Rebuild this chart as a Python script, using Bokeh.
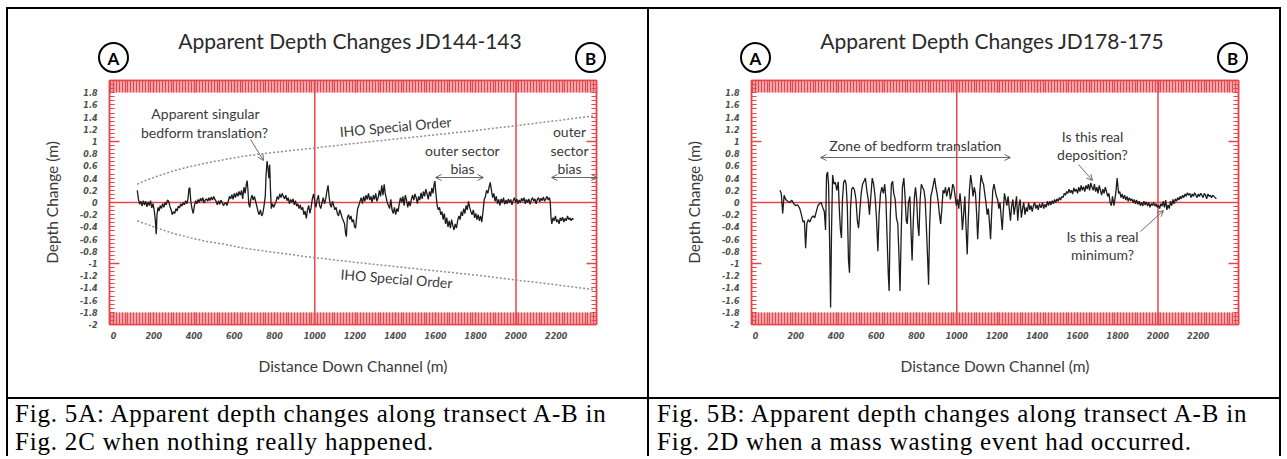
import numpy as np
from bokeh.plotting import figure
from bokeh.core.properties import value
from bokeh.models import (Range1d, LinearAxis, FixedTicker, NumeralTickFormatter,
                          Span, Label, Arrow, OpenHead, Div)
from bokeh.layouts import row, column
from bokeh.embed import file_html
from bokeh.resources import INLINE

# ---------------- data ----------------
x_ticks = [0, 200, 400, 600, 800, 1000, 1200, 1400, 1600, 1800, 2000, 2200]
y_ticks = [-2, -1.8, -1.6, -1.4, -1.2, -1, -0.8, -0.6, -0.4, -0.2, 0,
           0.2, 0.4, 0.6, 0.8, 1, 1.2, 1.4, 1.6, 1.8]
grid_lines = [1000, 2000]

left_x = [118, 124, 130, 136, 142, 148, 154, 160, 166, 172, 178, 184, 190, 196, 202, 208, 212, 216, 221, 226,
          232, 238, 244, 250, 256, 262, 268, 274, 280, 286, 292, 298, 304, 310, 316, 322, 328, 334, 340, 346,
          352, 358, 364, 370, 375, 379, 384, 390, 396, 402, 408, 414, 420, 426, 432, 438, 444, 450, 456, 462,
          468, 474, 480, 486, 492, 498, 504, 510, 516, 522, 528, 534, 540, 546, 552, 558, 564, 570, 576, 582,
          588, 594, 600, 606, 612, 618, 624, 630, 636, 642, 648, 654, 660, 664, 668, 672, 677, 682, 688, 694,
          700, 706, 712, 718, 724, 730, 736, 742, 748, 754, 758, 763, 768, 772, 776, 780, 784, 790, 796, 802,
          808, 814, 820, 826, 832, 838, 844, 850, 856, 862, 868, 874, 880, 886, 892, 898, 904, 910, 916, 922,
          928, 934, 940, 946, 952, 958, 964, 970, 976, 982, 988, 994, 1000, 1006, 1012, 1018, 1024, 1030, 1036, 1042,
          1048, 1054, 1060, 1066, 1071, 1076, 1082, 1088, 1094, 1100, 1106, 1112, 1118, 1124, 1130, 1136, 1142, 1148, 1153, 1157,
          1162, 1168, 1174, 1180, 1186, 1192, 1198, 1203, 1208, 1213, 1219, 1225, 1231, 1237, 1243, 1249, 1255, 1261, 1267, 1273,
          1279, 1285, 1291, 1297, 1303, 1309, 1315, 1321, 1327, 1333, 1339, 1345, 1350, 1355, 1360, 1366, 1372, 1378, 1384, 1390,
          1396, 1402, 1408, 1414, 1420, 1426, 1432, 1438, 1444, 1450, 1456, 1462, 1468, 1474, 1480, 1486, 1492, 1498, 1504, 1510,
          1516, 1522, 1528, 1534, 1540, 1546, 1552, 1558, 1564, 1570, 1576, 1582, 1588, 1593, 1597, 1602, 1608, 1614, 1620, 1626,
          1632, 1638, 1644, 1650, 1656, 1662, 1668, 1674, 1680, 1686, 1692, 1698, 1704, 1710, 1716, 1722, 1728, 1734, 1740, 1746,
          1752, 1758, 1764, 1770, 1776, 1782, 1788, 1794, 1800, 1806, 1812, 1818, 1824, 1830, 1836, 1842, 1848, 1854, 1860, 1866,
          1872, 1878, 1884, 1890, 1896, 1902, 1908, 1914, 1920, 1926, 1932, 1938, 1944, 1950, 1956, 1962, 1968, 1974, 1980, 1986,
          1992, 1998, 2004, 2010, 2016, 2022, 2028, 2034, 2040, 2046, 2052, 2058, 2064, 2070, 2076, 2082, 2088, 2094, 2100, 2106,
          2112, 2118, 2124, 2130, 2136, 2142, 2148, 2154, 2160, 2166, 2170, 2174, 2178, 2184, 2190, 2196, 2202, 2208, 2214, 2220,
          2226, 2232, 2238, 2244, 2250, 2256, 2262, 2268, 2274, 2280, 2286]
left_y = [0.20, 0.05, -0.03, 0.02, -0.06, 0.03, -0.04, 0.02, -0.07, 0.01, -0.05, 0.03, -0.09, -0.02, -0.12, -0.30, -0.52, -0.20, -0.08, -0.14,
          -0.05, -0.10, -0.02, -0.08, 0.00, -0.04, 0.04, 0.02, -0.06, -0.12, -0.20, -0.15, -0.18, -0.10, -0.14, -0.06, -0.09, -0.02, -0.06, 0.00,
          -0.04, 0.03, -0.02, 0.06, 0.23, 0.24, 0.02, -0.10, -0.18, -0.05, 0.03, -0.02, 0.05, 0.00, 0.07, 0.02, 0.08, -0.01, 0.04, 0.06,
          0.02, 0.08, 0.03, 0.09, 0.04, 0.10, 0.05, 0.02, -0.04, 0.03, -0.03, 0.04, 0.00, -0.05, -0.02, 0.00, -0.05, 0.02, 0.10, 0.06,
          0.13, 0.05, 0.15, 0.08, 0.16, 0.10, 0.18, 0.12, 0.20, 0.06, 0.25, 0.15, 0.30, 0.36, 0.20, -0.02, -0.08, 0.05, 0.12, 0.04,
          0.10, 0.02, -0.06, -0.15, -0.20, -0.12, -0.22, -0.18, -0.05, 0.10, 0.45, 0.68, 0.55, 0.40, 0.62, 0.20, -0.10, -0.02, -0.08, -0.03,
          0.02, 0.10, 0.05, 0.14, 0.08, 0.15, 0.10, 0.06, 0.12, 0.03, 0.08, -0.02, 0.05, 0.00, 0.06, -0.04, 0.03, -0.06, -0.02, -0.10,
          -0.04, -0.12, -0.08, -0.20, -0.14, -0.26, -0.12, -0.05, -0.18, -0.08, 0.06, 0.14, 0.02, -0.08, 0.05, 0.12, -0.05, -0.10, 0.00, 0.08,
          -0.02, 0.05, 0.18, 0.28, 0.10, -0.02, -0.08, 0.02, -0.05, -0.12, -0.08, -0.18, -0.22, -0.12, -0.18, -0.25, -0.30, -0.35, -0.50, -0.56,
          -0.25, -0.20, -0.28, -0.22, -0.32, -0.28, -0.40, -0.42, -0.25, -0.10, -0.05, 0.02, 0.08, -0.02, 0.10, 0.02, 0.12, 0.05, 0.15, 0.04,
          0.10, 0.00, 0.12, 0.05, 0.15, 0.02, 0.08, 0.20, 0.10, 0.28, 0.12, 0.30, 0.15, 0.08, 0.00, -0.05, -0.10, 0.05, -0.12, -0.18,
          -0.08, -0.20, -0.10, -0.15, -0.02, 0.08, 0.00, 0.10, -0.05, 0.12, 0.04, -0.08, 0.02, -0.06, 0.05, 0.12, 0.04, 0.14, 0.08, -0.02,
          0.10, 0.04, 0.16, 0.06, 0.18, 0.10, 0.22, 0.14, 0.05, 0.18, 0.10, 0.24, 0.15, 0.30, 0.35, 0.15, -0.05, -0.12, -0.08, -0.20,
          -0.15, -0.28, -0.18, -0.35, -0.25, -0.40, -0.30, -0.42, -0.28, -0.38, -0.45, -0.35, -0.42, -0.30, -0.22, -0.28, -0.15, -0.22, -0.10, -0.18,
          -0.05, -0.12, 0.02, -0.08, -0.15, -0.20, -0.12, -0.25, -0.18, -0.28, -0.20, -0.30, -0.22, -0.32, -0.15, 0.05, 0.10, 0.20, 0.15, 0.25,
          0.33, 0.20, 0.08, 0.15, 0.02, 0.10, -0.02, 0.05, -0.05, 0.06, 0.00, 0.08, -0.03, 0.04, -0.02, 0.06, 0.00, 0.05, -0.04, 0.03,
          0.08, 0.00, 0.06, -0.02, 0.04, 0.00, 0.07, 0.02, 0.08, -0.02, 0.05, 0.00, 0.06, -0.03, 0.04, 0.08, 0.02, 0.06, -0.02, 0.05,
          0.08, 0.01, 0.07, 0.03, 0.09, 0.02, 0.06, 0.10, 0.04, 0.08, 0.02, -0.25, -0.35, -0.25, -0.30, -0.22, -0.32, -0.28, -0.35, -0.25,
          -0.30, -0.24, -0.32, -0.26, -0.30, -0.22, -0.28, -0.25, -0.30, -0.26, -0.28]

right_x = [121, 128, 135, 142, 150, 160, 170, 180, 190, 200, 210, 220, 228, 236, 243, 249, 255, 262, 270, 278,
           286, 294, 302, 310, 318, 326, 334, 342, 348, 353, 358, 363, 368, 373, 378, 383, 390, 397, 404, 411,
           417, 422, 427, 432, 438, 445, 450, 456, 462, 467, 472, 478, 485, 492, 499, 506, 512, 518, 525, 532,
           539, 546, 553, 560, 566, 573, 580, 587, 594, 601, 608, 614, 621, 628, 635, 642, 648, 654, 660, 664,
           669, 675, 681, 687, 694, 700, 707, 713, 718, 724, 730, 737, 743, 749, 754, 760, 767, 773, 778, 784,
           790, 795, 801, 806, 812, 818, 824, 830, 837, 843, 849, 855, 860, 865, 871, 878, 884, 890, 896, 902,
           908, 914, 920, 926, 932, 938, 944, 950, 956, 962, 968, 974, 980, 986, 992, 998, 1004, 1010, 1016, 1022,
           1028, 1034, 1040, 1046, 1052, 1057, 1063, 1069, 1075, 1081, 1087, 1093, 1099, 1104, 1109, 1115, 1121, 1127, 1133, 1139,
           1145, 1151, 1157, 1163, 1168, 1173, 1179, 1185, 1191, 1197, 1203, 1209, 1215, 1221, 1226, 1231, 1237, 1243, 1249, 1255,
           1261, 1267, 1273, 1279, 1285, 1291, 1297, 1303, 1309, 1315, 1321, 1327, 1333, 1339, 1345, 1351, 1357, 1363, 1369, 1375,
           1381, 1387, 1393, 1399, 1405, 1411, 1417, 1420, 1426, 1432, 1438, 1444, 1450, 1456, 1462, 1468, 1474, 1480, 1486, 1492,
           1498, 1504, 1510, 1516, 1522, 1528, 1534, 1540, 1546, 1552, 1558, 1564, 1570, 1576, 1582, 1588, 1594, 1600, 1606, 1612,
           1618, 1624, 1630, 1636, 1642, 1648, 1654, 1660, 1666, 1672, 1678, 1684, 1690, 1696, 1702, 1708, 1714, 1720, 1726, 1732,
           1738, 1744, 1750, 1756, 1762, 1768, 1774, 1781, 1790, 1797, 1804, 1810, 1816, 1822, 1828, 1834, 1840, 1846, 1852, 1858,
           1864, 1870, 1876, 1882, 1888, 1894, 1900, 1906, 1912, 1918, 1924, 1930, 1936, 1942, 1948, 1954, 1960, 1966, 1972, 1978,
           1984, 1990, 1996, 2002, 2008, 2014, 2020, 2026, 2032, 2038, 2044, 2050, 2056, 2062, 2068, 2074, 2080, 2086, 2092, 2098,
           2104, 2110, 2116, 2122, 2128, 2134, 2140, 2146, 2152, 2158, 2164, 2170, 2176, 2182, 2188, 2194, 2200, 2206, 2212, 2218,
           2224, 2230, 2236, 2242, 2248, 2254, 2260, 2266, 2272, 2278, 2284, 2290]
right_y = [0.20, 0.15, -0.18, 0.12, 0.05, 0.02, 0.00, 0.04, -0.02, -0.05, -0.04, -0.10, -0.20, -0.32, -0.30, -0.75, -0.35, -0.28, -0.32, -0.25,
           -0.22, -0.25, -0.15, -0.05, -0.02, 0.00, -0.08, -0.15, -0.45, 0.45, 0.50, 0.30, -0.60, -1.72, -0.40, 0.45, 0.30, 0.33, 0.20, 0.34,
           -0.15, -0.45, -0.58, 0.05, 0.33, 0.37, 0.30, -0.05, -0.95, -1.15, -0.10, 0.22, 0.25, 0.20, 0.05, -0.30, -0.42, -0.15, 0.15, 0.30,
           0.35, 0.40, 0.20, 0.05, -0.20, 0.10, 0.40, 0.30, 0.10, -0.25, -0.80, -0.20, 0.15, 0.25, 0.15, 0.30, 0.05, -0.60, -1.20, -1.45,
           -0.30, 0.30, 0.35, 0.15, 0.05, -0.25, -0.35, -0.90, -1.45, -0.50, 0.25, 0.40, 0.10, -0.30, -0.35, 0.00, 0.10, -0.50, -0.95, -0.30,
           0.10, 0.25, 0.05, -0.35, -0.55, 0.05, 0.30, 0.25, 0.20, 0.05, -0.40, -0.90, -1.35, -0.40, 0.10, 0.20, 0.30, 0.40, 0.25, 0.15,
           0.00, -0.20, -0.35, -0.10, 0.20, 0.15, 0.25, 0.10, 0.20, 0.25, 0.05, 0.15, 0.30, 0.25, 0.10, -0.05, 0.05, -0.10, 0.15, -0.05,
           -0.45, -0.20, 0.10, -0.40, -0.85, -0.30, 0.20, 0.45, 0.30, 0.10, 0.25, 0.15, -0.20, -0.60, -0.25, 0.20, 0.45, 0.35, 0.30, 0.15,
           0.00, -0.20, -0.10, -0.35, -0.60, -0.20, 0.20, 0.30, 0.20, 0.10, 0.05, -0.10, 0.00, -0.25, -0.45, -0.15, 0.15, 0.05, -0.05, 0.10,
           -0.10, -0.30, -0.05, 0.05, -0.20, -0.05, 0.10, -0.30, -0.05, 0.05, -0.25, -0.10, 0.00, -0.20, -0.08, -0.15, 0.00, -0.12, -0.05, -0.15,
           -0.05, 0.00, -0.10, -0.04, -0.12, -0.02, -0.08, -0.08, 0.00, -0.10, -0.03, -0.08, 0.02, -0.05, 0.02, -0.04, 0.03, -0.02, 0.05, 0.00,
           0.06, 0.02, 0.08, 0.04, 0.10, 0.08, 0.15, 0.12, 0.18, 0.15, 0.22, 0.16, 0.20, 0.14, 0.24, 0.18, 0.22, 0.15, 0.25, 0.18,
           0.28, 0.20, 0.26, 0.18, 0.28, 0.22, 0.30, 0.20, 0.32, 0.25, 0.20, 0.30, 0.18, 0.25, 0.15, 0.28, 0.20, 0.12, 0.22, 0.15,
           0.25, 0.18, 0.10, 0.15, 0.00, -0.05, 0.10, -0.05, 0.15, 0.40, 0.15, 0.18, 0.08, 0.14, 0.06, 0.12, 0.04, 0.10, 0.02, 0.08,
           0.03, 0.06, 0.00, 0.05, -0.02, 0.04, -0.03, 0.02, -0.05, 0.00, -0.06, 0.02, -0.04, 0.01, -0.06, 0.00, -0.08, -0.02, -0.05, 0.00,
           -0.06, -0.02, -0.08, -0.04, -0.10, -0.02, -0.06, 0.02, -0.08, 0.04, -0.12, -0.04, -0.10, 0.02, -0.05, 0.05, -0.02, 0.06, 0.02, 0.08,
           0.04, 0.10, 0.06, 0.12, 0.08, 0.14, 0.10, 0.16, 0.12, 0.15, 0.08, 0.14, 0.10, 0.16, 0.12, 0.08, 0.14, 0.10, 0.15, 0.12,
           0.08, 0.15, 0.12, 0.06, 0.14, 0.10, 0.12, 0.08, 0.12, 0.10, 0.08, 0.06, 0.05]

iho_x = [118, 150, 217, 300, 383, 465, 547, 630, 716, 850, 989, 1200, 1400, 1600, 1800, 2000, 2200, 2390]
iho_upper = [0.30, 0.35, 0.43, 0.52, 0.59, 0.65, 0.70, 0.75, 0.79, 0.84, 0.89, 0.97, 1.04, 1.11, 1.18, 1.26, 1.34, 1.42]
iho_lower = [-0.30, -0.34, -0.42, -0.51, -0.58, -0.64, -0.68, -0.74, -0.78, -0.84, -0.90, -0.98, -1.05, -1.12, -1.19, -1.27, -1.35, -1.43]

# ---------------- styling ----------------
RED = "#e5474d"
BAND = "#f6b9bc"
TXT = "#3a3a3a"
ARW = "#6a6a6a"
FONT = "Lato"
X0, X1 = -20, 2400
FW, FH = 487, 244
SX = FW / (X1 - X0)
SY = FH / 4.0
FIG_TOP = 9          # page y of the top of the chart figures
FIG_H = 388
FRAME_TOP, FRAME_BOT = 80, 324

x_minor = [k * 200 / 14 for k in range(-1, 169) if X0 <= k * 200 / 14 <= X1]
y_minor = [k * 0.2 / 3 for k in range(-30, 31)]


def style_x_axis(ax, show_labels):
    ax.ticker = FixedTicker(ticks=x_ticks, minor_ticks=x_minor)
    ax.major_tick_in = 12
    ax.major_tick_out = 0
    ax.minor_tick_in = 12
    ax.minor_tick_out = 0
    ax.major_tick_line_color = RED
    ax.minor_tick_line_color = RED
    ax.major_tick_line_width = 1.3
    ax.minor_tick_line_width = 1.3
    ax.axis_line_color = RED
    ax.axis_line_width = 1.5
    ax.major_label_text_font = "DejaVu Sans"
    ax.major_label_text_font_style = "bold italic"
    ax.major_label_text_font_size = "8px"
    ax.major_label_text_color = "#505050"
    ax.major_label_standoff = 7
    if not show_labels:
        ax.major_label_text_alpha = 0


def style_y_axis(ax, show_labels):
    ax.ticker = FixedTicker(ticks=y_ticks, minor_ticks=y_minor)
    ax.formatter = NumeralTickFormatter(format="0.[0]")
    ax.major_tick_in = 5
    ax.major_tick_out = 0
    ax.minor_tick_in = 5
    ax.minor_tick_out = 0
    ax.major_tick_line_color = RED
    ax.minor_tick_line_color = RED
    ax.axis_line_color = RED
    ax.axis_line_width = 1.5
    ax.major_label_text_font = "DejaVu Sans"
    ax.major_label_text_font_style = "bold italic"
    ax.major_label_text_font_size = "8px"
    ax.major_label_text_color = "#505050"
    ax.major_label_standoff = 12
    if not show_labels:
        ax.major_label_text_alpha = 0


def make_panel(W, fig_left, FL, title, xs, ys, iho):
    FR = FL + FW
    p = figure(width=W, height=FIG_H, x_range=Range1d(X0, X1), y_range=Range1d(-2, 2),
               output_backend="svg", toolbar_location=None,
               min_border_left=FL - fig_left, min_border_right=W - (FR - fig_left),
               min_border_top=FRAME_TOP - FIG_TOP,
               min_border_bottom=FIG_H - (FRAME_BOT - FIG_TOP))
    p.grid.visible = False
    p.outline_line_color = RED
    p.outline_line_width = 1.5
    p.background_fill_color = "white"
    p.border_fill_color = "white"

    def X(px):
        return X0 + (px - FL) / SX

    def Y(py):
        return 2 - (py - FRAME_TOP) / SY

    style_x_axis(p.xaxis[0], True)
    style_y_axis(p.yaxis[0], True)
    p.xaxis.axis_label = "Distance Down Channel (m)"
    p.yaxis.axis_label = "Depth Change (m)"
    for ax in (p.xaxis[0], p.yaxis[0]):
        ax.axis_label_text_font = FONT
        ax.axis_label_text_font_style = "normal"
        ax.axis_label_text_font_size = "15.5px"
        ax.axis_label_text_color = TXT
    p.xaxis.axis_label_standoff = 15
    p.yaxis.axis_label_standoff = 16

    top = LinearAxis()
    style_x_axis(top, False)
    p.add_layout(top, "above")
    right = LinearAxis()
    style_y_axis(right, False)
    p.add_layout(right, "right")

    # pink backing of the dense tick bands at top and bottom
    band_h = 12 / SY
    p.quad(left=[X0, X0], right=[X1, X1], bottom=[2 - band_h, -2], top=[2, -2 + band_h],
           fill_color=BAND, line_color=None, level="underlay")

    # long ticks at +-1 on both sides
    tick_len = 10 / SX
    p.segment(x0=[X0, X0, X1 - tick_len, X1 - tick_len], y0=[1, -1, 1, -1],
              x1=[X0 + tick_len, X0 + tick_len, X1, X1], y1=[1, -1, 1, -1],
              line_color=RED, line_width=1.3)

    p.add_layout(Span(location=0, dimension="width", line_color=RED, line_width=1.5, level="underlay"))
    for g in grid_lines:
        p.add_layout(Span(location=g, dimension="height", line_color=RED, line_width=1.5, level="underlay"))

    if iho is not None:
        p.line(iho[0], iho[1], line_color="#8f8f8f", line_width=1.5, line_dash="2 2")
        p.line(iho[0], iho[2], line_color="#8f8f8f", line_width=1.5, line_dash="2 2")

    p.line(xs, ys, line_color="#1c1c1c", line_width=1.3)

    # title and A / B markers (drawn above the frame, so use overlay level glyphs)
    p.text(x=[(X0 + X1) / 2], y=[Y(40)], text=[title], text_align="center", text_baseline="middle",
           text_font=value(FONT), text_font_size=value("21px"), text_color="#2a2a2a", level="overlay")
    cx = [X(FL + 4), X(FR - 6)]
    p.scatter(x=cx, y=[Y(57), Y(57)], marker="circle", size=29,
              fill_color="white", line_color="black", line_width=2, level="overlay")
    p.text(x=cx, y=[Y(57.5), Y(57.5)], text=["A", "B"], text_align="center", text_baseline="middle",
           text_font=value(FONT), text_font_style="bold", text_font_size=value("17px"),
           text_color="black", level="overlay")
    return p, X, Y


def note(p, x, y, text, size="14px", angle=0.0):
    p.add_layout(Label(x=x, y=y, text=text, text_align="center", text_baseline="middle",
                       text_font=FONT, text_font_size=size, text_color=TXT, angle=angle))


def arrow(p, x0, y0, x1, y1, both=False):
    head = dict(size=6, line_color=ARW, line_width=1)
    p.add_layout(Arrow(start=OpenHead(**head) if both else None, end=OpenHead(**head),
                       x_start=x0, y_start=y0, x_end=x1, y_end=y1, line_color=ARW, line_width=1))


# ---------------- left panel ----------------
pl, XL, YL = make_panel(639, 8, 109, "Apparent Depth Changes  JD144-143", left_x, left_y,
                        (iho_x, iho_upper, iho_lower))
note(pl, XL(205), YL(113), "Apparent singular")
note(pl, XL(204), YL(132), "bedform translation?")
arrow(pl, XL(250), YL(139), XL(263), YL(160))
note(pl, XL(395), YL(126), "IHO Special Order", angle=0.09)
note(pl, XL(396), YL(278), "IHO Special Order", angle=-0.08)
note(pl, XL(462), YL(150), "outer sector")
note(pl, XL(462), YL(168), "bias")
arrow(pl, XL(435), YL(177), XL(483), YL(177), both=True)
note(pl, XL(569), YL(131), "outer")
note(pl, XL(569), YL(150), "sector")
note(pl, XL(569), YL(168), "bias")
arrow(pl, XL(551), YL(177), XL(597), YL(177), both=True)

# ---------------- right panel ----------------
pr, XR, YR = make_panel(630, 649, 751, "Apparent Depth Changes  JD178-175", right_x, right_y, None)
note(pr, XR(915), YR(145), "Zone of bedform translation")
arrow(pr, XR(820), YR(157), XR(1010), YR(157), both=True)
note(pr, XR(1092), YR(136), "Is this real")
note(pr, XR(1092), YR(154), "deposition?")
arrow(pr, XR(1078), YR(164), XR(1092), YR(180))
note(pr, XR(1102), YR(236), "Is this a real")
note(pr, XR(1102), YR(254), "minimum?")
arrow(pr, XR(1140), YR(231), XR(1163), YR(210))


# ---------------- page layout ----------------
def bar(w, h):
    return Div(text="", width=w, height=h, margin=0, styles={"background-color": "black"})


CAP_H = 57


def caption(w, html, pad_left):
    return Div(text=('<div style="font-family: \'Liberation Serif\', \'Times New Roman\', serif; '
                     'font-size: 25px; line-height: 28px; letter-spacing: 0.8px; color: black; '
                     'white-space: nowrap; padding: 1px 0 0 %dpx;">%s</div>' % (pad_left, html)),
               width=w, height=CAP_H, margin=0)


cap_l = caption(639, "Fig. 5A: Apparent depth changes along transect A-B in<br>Fig. 2C when nothing really happened.", 7)
cap_r = caption(630, "Fig. 5B: Apparent depth changes along transect A-B in<br>Fig. 2D when a mass wasting event had occurred.", 8)

TOTAL_W = 2 + 639 + 2 + 630 + 2
layout = column(
    bar(TOTAL_W, 2),
    row(bar(2, FIG_H), pl, bar(2, FIG_H), pr, bar(2, FIG_H), spacing=0),
    bar(TOTAL_W, 2),
    row(bar(2, CAP_H), cap_l, bar(2, CAP_H), cap_r, bar(2, CAP_H), spacing=0),
    spacing=0,
    margin=(7, 0, 0, 6),
)

open("out.html", "w").write(file_html(layout, INLINE))
